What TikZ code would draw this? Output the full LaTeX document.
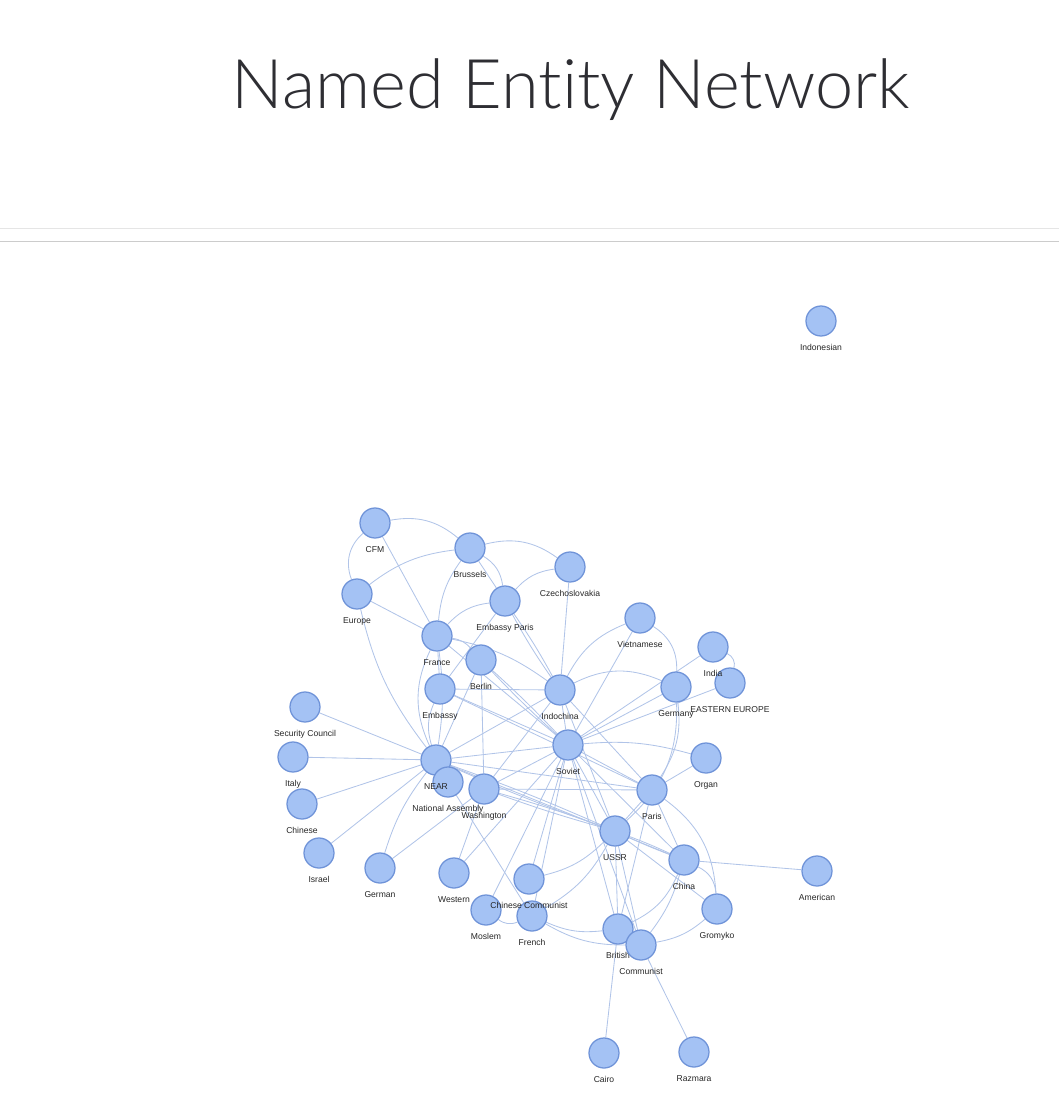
\documentclass[tikz,border=0pt]{standalone}
\usepackage{fontspec}
\setmainfont{Liberation Sans}
\newfontfamily\titlefont[Ligatures=NoCommon]{Lato Light}
\usetikzlibrary{backgrounds}
\definecolor{entfill}{HTML}{A4C2F4}
\definecolor{entdraw}{HTML}{6F93D8}
\definecolor{linkcol}{HTML}{B1C4E8}
\definecolor{titlecol}{HTML}{2E2E33}
\tikzset{
	ent/.style={circle, draw=entdraw, fill=entfill, line width=0.9pt, minimum size=0.75cm, inner sep=0pt},
	lbl/.style={font=\fontsize{6.1}{7}\selectfont, text=black!85, inner sep=0.5pt},
	every label/.style={lbl},
	label distance=5pt,
	link/.style={draw=linkcol, line width=0.6pt}
}
\begin{document}
\begin{tikzpicture}[x=0.025cm, y=-0.025cm]
		\useasboundingbox (0,0) rectangle (1059,1119);
		\node[anchor=base, text=titlecol] (title) at (571,108) {\titlefont\fontsize{48.7}{50}\selectfont Named Entity Network};
		\draw[gray!20, line width=0.7pt] (0,228) -- (1059,228);
		\draw[gray!40, line width=0.7pt] (0,241) -- (1059,241);
		% entities
		\node[ent, label=below:Indonesian] (indon) at (821,321) {};
		\node[ent, label=below:CFM] (cfm) at (375,523) {};
		\node[ent, label=below:Brussels] (brus) at (470,548) {};
		\node[ent, label=below:Czechoslovakia] (czech) at (570,567) {};
		\node[ent, label=below:Europe] (europe) at (357,594) {};
		\node[ent, label=below:Embassy Paris] (embp) at (505,601) {};
		\node[ent, label=below:Vietnamese] (viet) at (640,618) {};
		\node[ent, label=below:France] (france) at (437,636) {};
		\node[ent, label=below:Berlin] (berlin) at (481,660) {};
		\node[ent] (india) at (713,647) {};
		\node[ent, label=below:Germany] (germany) at (676,687) {};
		\node[ent, label=below:EASTERN EUROPE] (easteu) at (730,683) {};
		\node[lbl, anchor=north] (indialbl) at ([yshift=-5pt]india.south) {India};
		\node[ent, label=below:Embassy] (embassy) at (440,689) {};
		\node[ent, label=below:Indochina] (indo) at (560,690) {};
		\node[ent, label=below:Security Council] (secc) at (305,707) {};
		\node[ent, label=below:Soviet] (soviet) at (568,745) {};
		\node[ent, label=below:Italy] (italy) at (293,757) {};
		\node[ent, label=below:Organ] (organ) at (706,758) {};
		\node[ent] (near) at (436,760) {};
		\node[ent, label=below:National Assembly] (natass) at (448,782) {};
		\node[lbl, anchor=north] (nearlbl) at ([yshift=-5pt]near.south) {NEAR};
		\node[ent, label=below:Washington] (wash) at (484,789) {};
		\node[ent, label=below:Paris] (paris) at (652,790) {};
		\node[ent, label=below:Chinese] (chinese) at (302,804) {};
		\node[ent, label=below:USSR] (ussr) at (615,831) {};
		\node[ent, label=below:Israel] (israel) at (319,853) {};
		\node[ent, label=below:China] (china) at (684,860) {};
		\node[ent, label=below:German] (german) at (380,868) {};
		\node[ent, label=below:American] (american) at (817,871) {};
		\node[ent, label=below:Western] (western) at (454,873) {};
		\node[ent, label=below:Moslem] (moslem) at (486,910) {};
		\node[ent, label=below:French] (french) at (532,916) {};
		\node[ent, label=below:Chinese Communist] (chcom) at (529,879) {};
		\node[ent, label=below:Gromyko] (gromyko) at (717,909) {};
		\node[ent, label=below:British] (british) at (618,929) {};
		\node[ent, label=below:Communist] (communist) at (641,945) {};
		\node[ent, label=below:Cairo] (cairo) at (604,1053) {};
		\node[ent, label=below:Razmara] (razmara) at (694,1052) {};
		% links
		\begin{scope}[on background layer, every path/.style={link}]
		\draw (cfm) to[bend left=25] (brus);
		\draw (cfm) to[bend right=35] (europe);
		\draw (cfm) -- (france);
		\draw (europe) to[bend left=15] (brus);
		\draw (brus) to[bend left=25] (czech);
		\draw (brus) -- (embp);
		\draw (brus) to[bend left=25] (embp);
		\draw (brus) to[bend right=15] (france);
		\draw (europe) -- (france);
		\draw (europe) to[bend right=12] (near);
		\draw (czech) to[bend right=20] (embp);
		\draw (czech) -- (indo);
		\draw (embp) to[bend left=3] (indo);
		\draw (embp) to[bend right=3] (indo);
		\draw (embp) to[bend right=20] (france);
		\draw (embp) -- (embassy);
		\draw (france) to[bend left=20] (berlin);
		\draw (france) to[bend left=12] (indo);
		\draw (france) -- (embassy);
		\draw (france) to[bend right=25] (near);
		\draw (france) to[bend left=8] (near);
		\draw (france) -- (soviet);
		\draw (embassy) -- (indo);
		\draw (berlin) to[bend left=2] (soviet);
		\draw (berlin) to[bend right=2] (soviet);
		\draw (berlin) -- (near);
		\draw (berlin) -- (wash);
		\draw (embassy) to[bend right=20] (near);
		\draw (embassy) -- (soviet);
		\draw (embassy) -- (paris);
		\draw (near) -- (indo);
		\draw (near) -- (soviet);
		\draw (near) -- (paris);
		\draw (near) to[bend left=2] (ussr);
		\draw (near) to[bend right=2] (ussr);
		\draw (near) -- (china);
		\draw (secc) -- (near);
		\draw (italy) -- (near);
		\draw (chinese) -- (near);
		\draw (israel) -- (near);
		\draw (german) to[bend left=10] (near);
		\draw (german) -- (wash);
		\draw (natass) -- (french);
		\draw (wash) -- (soviet);
		\draw (wash) -- (indo);
		\draw (wash) to[bend left=2] (ussr);
		\draw (wash) to[bend right=2] (ussr);
		\draw (wash) -- (paris);
		\draw (wash) -- (western);
		\draw (viet) to[bend right=20] (indo);
		\draw (viet) -- (soviet);
		\draw (viet) to[bend left=30] (germany);
		\draw (india) to[bend left=40] (easteu);
		\draw (india) -- (soviet);
		\draw (easteu) -- (soviet);
		\draw (germany) to[bend right=25] (indo);
		\draw (germany) -- (soviet);
		\draw (germany) to[bend left=20] (paris);
		\draw (germany) to[bend left=25] (ussr);
		\draw (organ) to[bend right=10] (soviet);
		\draw (organ) -- (paris);
		\draw (indo) -- (soviet);
		\draw (indo) -- (ussr);
		\draw (indo) -- (paris);
		\draw (soviet) -- (paris);
		\draw (soviet) -- (ussr);
		\draw (soviet) -- (china);
		\draw (soviet) -- (british);
		\draw (soviet) -- (communist);
		\draw (soviet) -- (french);
		\draw (soviet) -- (chcom);
		\draw (soviet) -- (western);
		\draw (soviet) -- (moslem);
		\draw (paris) -- (ussr);
		\draw (paris) -- (china);
		\draw (paris) to[bend left=25] (gromyko);
		\draw (paris) -- (british);
		\draw (ussr) to[bend left=2] (china);
		\draw (ussr) to[bend right=2] (china);
		\draw (ussr) -- (gromyko);
		\draw (ussr) to[bend left=15] (chcom);
		\draw (ussr) -- (british);
		\draw (ussr) -- (communist);
		\draw (ussr) to[bend left=15] (french);
		\draw (china) -- (american);
		\draw (china) to[bend left=20] (british);
		\draw (china) to[bend left=10] (communist);
		\draw (china) to[bend left=30] (gromyko);
		\draw (gromyko) to[bend left=15] (communist);
		\draw (british) -- (cairo);
		\draw (communist) -- (razmara);
		\draw (french) to[bend right=15] (british);
		\draw (french) to[bend right=15] (communist);
		\draw (moslem) to[bend right=30] (french);
		\end{scope}
		\end{tikzpicture}
\end{document}
